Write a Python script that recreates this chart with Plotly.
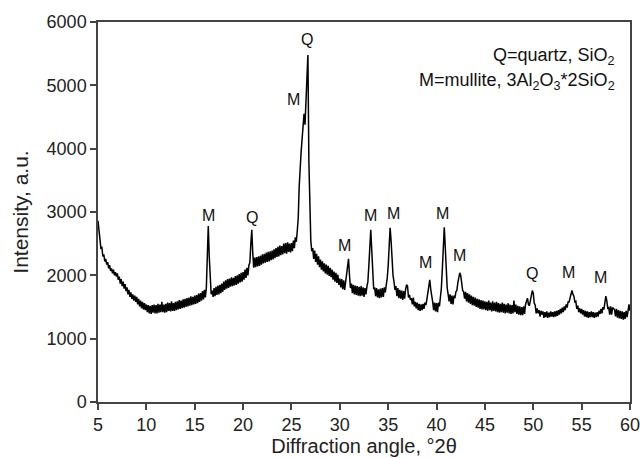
import numpy as np
import plotly.graph_objects as go

# XRD pattern at 0.1 deg steps (one row per degree)
two_theta_start = 5.0
two_theta_step = 0.1
intensity = [
    2860, 2700, 2590, 2430, 2440, 2300, 2330, 2220, 2260, 2170,   # 5
    2210, 2110, 2160, 2070, 2110, 2030, 2090, 2000, 2050, 1980,   # 6
    2030, 1930, 1980, 1870, 1940, 1830, 1900, 1790, 1860, 1750,   # 7
    1810, 1700, 1770, 1660, 1730, 1630, 1700, 1600, 1680, 1580,   # 8
    1660, 1540, 1630, 1510, 1600, 1480, 1580, 1460, 1560, 1450,   # 9
    1540, 1420, 1530, 1400, 1520, 1390, 1530, 1410, 1540, 1400,   # 10
    1530, 1400, 1550, 1410, 1540, 1420, 1580, 1420, 1540, 1410,   # 11
    1550, 1420, 1570, 1440, 1560, 1430, 1590, 1440, 1560, 1440,   # 12
    1580, 1450, 1590, 1460, 1610, 1470, 1600, 1480, 1620, 1490,   # 13
    1630, 1500, 1640, 1510, 1650, 1520, 1670, 1530, 1660, 1540,   # 14
    1680, 1550, 1690, 1560, 1710, 1580, 1720, 1600, 1750, 1620,   # 15
    1770, 1650, 1800, 2250, 2780, 2300, 1900, 1700, 1760, 1660,   # 16
    1800, 1670, 1820, 1690, 1840, 1700, 1850, 1720, 1870, 1740,   # 17
    1900, 1770, 1920, 1790, 1940, 1800, 1950, 1820, 1970, 1830,   # 18
    1960, 1840, 1990, 1850, 2000, 1870, 2020, 1890, 2040, 1900,   # 19
    2050, 1930, 2090, 1960, 2120, 2000, 2160, 2200, 2500, 2720,   # 20
    2350, 2120, 2280, 2130, 2290, 2140, 2300, 2150, 2310, 2170,   # 21
    2330, 2190, 2340, 2200, 2360, 2210, 2370, 2220, 2380, 2240,   # 22
    2390, 2250, 2410, 2270, 2430, 2290, 2450, 2300, 2470, 2320,   # 23
    2460, 2330, 2500, 2350, 2510, 2340, 2520, 2370, 2500, 2360,   # 24
    2510, 2380, 2550, 2430, 2600, 2530, 2700, 2900, 3400, 3800,   # 25
    3950, 4150, 4450, 4550, 4380, 4700, 5250, 5480, 3800, 2900,   # 26
    2550, 2380, 2430, 2260, 2390, 2210, 2340, 2170, 2300, 2130,   # 27
    2250, 2090, 2220, 2060, 2190, 2030, 2170, 2010, 2150, 1990,   # 28
    2120, 1970, 2090, 1930, 2060, 1900, 2040, 1880, 2010, 1850,   # 29
    1950, 1810, 1940, 1780, 1920, 1770, 1900, 1950, 2150, 2260,   # 30
    2000, 1800, 1870, 1720, 1850, 1700, 1840, 1690, 1830, 1680,   # 31
    1820, 1670, 1830, 1680, 1810, 1660, 1800, 1700, 1820, 1900,   # 32
    2150, 2500, 2720, 2400, 2000, 1780, 1810, 1670, 1800, 1650,   # 33
    1780, 1640, 1790, 1650, 1800, 1660, 1810, 1730, 1850, 1950,   # 34
    2150, 2450, 2750, 2550, 2200, 2000, 1900, 1770, 1830, 1670,   # 35
    1800, 1640, 1770, 1630, 1760, 1610, 1750, 1630, 1780, 1850,   # 36
    1830, 1650, 1690, 1610, 1640, 1540, 1650, 1510, 1580, 1480,   # 37
    1570, 1450, 1550, 1440, 1540, 1450, 1550, 1470, 1570, 1530,   # 38
    1620, 1720, 1880, 1930, 1780, 1620, 1580, 1450, 1570, 1430,   # 39
    1560, 1420, 1570, 1510, 1640, 1800, 2100, 2500, 2760, 2450,   # 40
    2000, 1800, 1700, 1590, 1700, 1550, 1680, 1540, 1680, 1640,   # 41
    1740, 1760, 1880, 1980, 2040, 2000, 1880, 1760, 1740, 1630,   # 42
    1740, 1590, 1720, 1570, 1700, 1550, 1680, 1530, 1660, 1520,   # 43
    1650, 1500, 1630, 1490, 1620, 1470, 1610, 1460, 1600, 1460,   # 44
    1590, 1450, 1580, 1440, 1600, 1450, 1570, 1430, 1590, 1440,   # 45
    1570, 1430, 1580, 1420, 1560, 1410, 1550, 1420, 1570, 1410,   # 46
    1550, 1400, 1540, 1410, 1560, 1400, 1540, 1390, 1530, 1400,   # 47
    1600, 1420, 1540, 1390, 1520, 1380, 1510, 1370, 1500, 1370,   # 48
    1510, 1390, 1540, 1600, 1640, 1540, 1520, 1600, 1700, 1760,   # 49
    1720, 1560, 1530, 1400, 1480, 1400, 1450, 1350, 1440, 1380,   # 50
    1430, 1330, 1420, 1340, 1430, 1330, 1410, 1340, 1430, 1350,   # 51
    1420, 1340, 1430, 1350, 1440, 1360, 1450, 1380, 1470, 1400,   # 52
    1490, 1420, 1510, 1450, 1540, 1490, 1580, 1580, 1640, 1700,   # 53
    1760, 1700, 1670, 1580, 1590, 1470, 1520, 1420, 1480, 1400,   # 54
    1470, 1380, 1450, 1350, 1440, 1340, 1430, 1330, 1420, 1340,   # 55
    1430, 1340, 1420, 1330, 1410, 1340, 1420, 1350, 1440, 1390,   # 56
    1470, 1400, 1500, 1460, 1580, 1670, 1600, 1480, 1490, 1380,   # 57
    1510, 1380, 1490, 1480, 1460, 1350, 1470, 1330, 1450, 1320,   # 58
    1440, 1310, 1430, 1300, 1420, 1310, 1440, 1340, 1500, 1540,   # 59
    1440,                                                         # 60
]
two_theta = np.round(two_theta_start + two_theta_step * np.arange(len(intensity)), 1)

# peak labels (position of the letter)
label_text = ["M", "Q", "M", "Q", "M", "M", "M", "M", "M", "M", "Q", "M", "M"]
label_x = [16.4, 20.9, 25.2, 26.6, 30.5, 33.2, 35.6, 38.9, 40.6, 42.4, 49.9, 53.6, 57.0]
label_y = [2950, 2920, 4770, 5730, 2475, 2950, 2980, 2210, 2980, 2320, 2030, 2050, 1970]

font_name = "Liberation Sans, Arial, sans-serif"

fig = go.Figure()
fig.add_trace(go.Scatter(x=two_theta, y=intensity, mode="lines",
                         line=dict(color="black", width=1.5), showlegend=False))

for t, lx, ly in zip(label_text, label_x, label_y):
    fig.add_annotation(x=lx, y=ly, text=t, showarrow=False,
                       font=dict(size=16, color="#111", family=font_name))

fig.add_annotation(xref="paper", yref="paper", x=0.976, y=0.918, xanchor="right",
                   yanchor="middle", yshift=-3,
                   text="Q=quartz, SiO<sub>2</sub>", showarrow=False,
                   font=dict(size=18, color="#111", family=font_name))
fig.add_annotation(xref="paper", yref="paper", x=0.976, y=0.852, xanchor="right",
                   yanchor="middle", yshift=-3,
                   text="M=mullite, 3Al<sub>2</sub>O<sub>3</sub>*2SiO<sub>2</sub>", showarrow=False,
                   font=dict(size=18, color="#111", family=font_name))

axis_style = dict(showgrid=False, zeroline=False, showline=True, linecolor="#444",
                  linewidth=1.5, mirror=True, ticks="outside", ticklen=6,
                  tickcolor="#444", tickwidth=1.5, automargin=False,
                  ticklabeloverflow="allow",
                  tickfont=dict(size=18, color="#222", family=font_name))

fig.update_xaxes(range=[5, 60], dtick=5, tick0=5,
                 title=dict(text="Diffraction angle, °2θ", standoff=0,
                            font=dict(size=20, color="#222", family=font_name)),
                 **axis_style)
fig.update_yaxes(range=[0, 6000], dtick=1000,
                 title=dict(text="Intensity, a.u.", standoff=12,
                            font=dict(size=21, color="#222", family=font_name)),
                 **axis_style)

fig.update_layout(width=640, height=458, plot_bgcolor="white", paper_bgcolor="white",
                  margin=dict(l=98, r=10, t=22, b=56))

# the page's default body margin would shift the figure by 8px
fig.write_html("out.html", config={"displayModeBar": False},
               post_script="document.body.style.margin='0';")
